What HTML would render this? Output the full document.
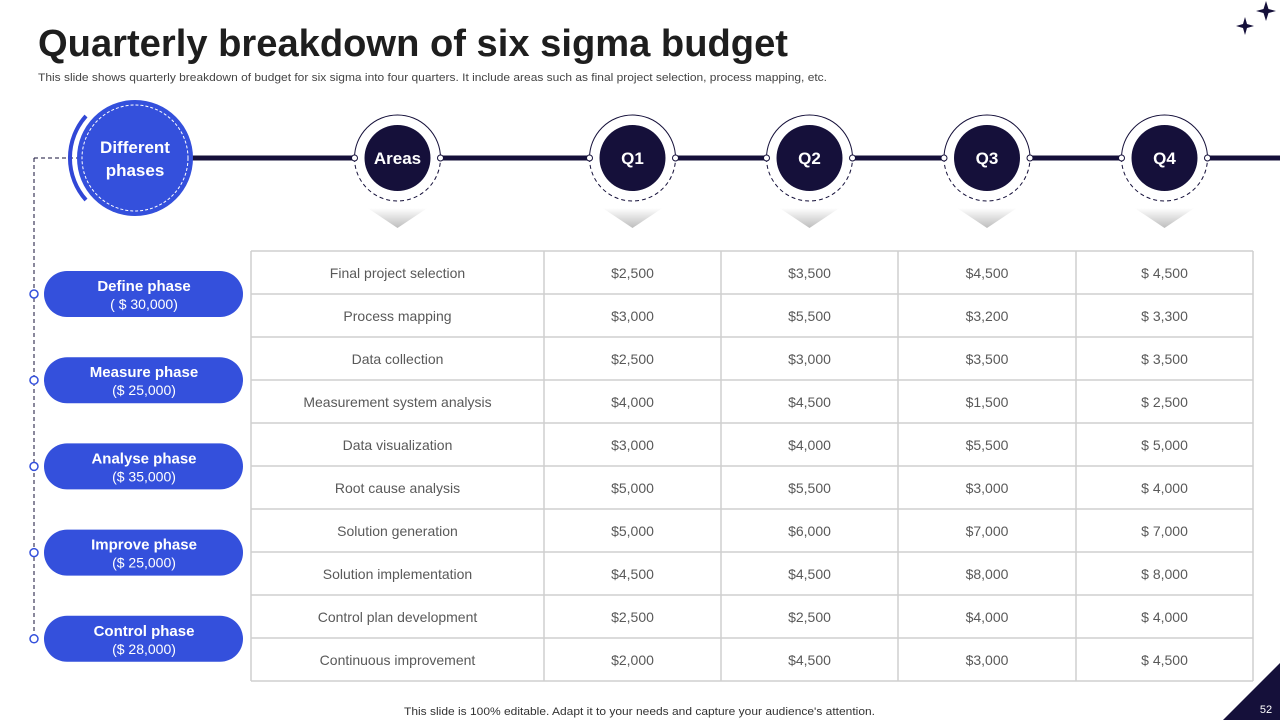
<!DOCTYPE html>
<html><head><meta charset="utf-8"><style>
body{margin:0;background:#fff;}
svg{display:block;font-family:"Liberation Sans",sans-serif;}
</style></head><body>
<svg id="s" width="1280" height="720" viewBox="0 0 1280 720">
<defs>
<linearGradient id="chev" x1="0" y1="0" x2="0" y2="1">
<stop offset="0" stop-color="#ffffff"/><stop offset="1" stop-color="#bdbdbd"/>
</linearGradient>
</defs>
<text x="38" y="56" font-size="38" font-weight="bold" fill="#1e1e1e" textLength="750" lengthAdjust="spacingAndGlyphs">Quarterly breakdown of six sigma budget</text>
<text x="38" y="81" font-size="11" fill="#444" textLength="789" lengthAdjust="spacingAndGlyphs">This slide shows quarterly breakdown of budget for six sigma into four quarters. It include areas such as final project selection, process mapping, etc.</text>
<g fill="#15103a">
<path d="M1266 1 L1268.5 9 L1276 11 L1268.5 13 L1266 21 L1263.5 13 L1256 11 L1263.5 9Z"/>
<path d="M1245 17 L1247 24 L1254 26 L1247 28 L1245 35 L1243 28 L1236 26 L1243 24Z"/>
</g>
<rect x="190" y="155.5" width="1090" height="5" fill="#15103a"/>
<path d="M34 158 H80 M34 158 V638" stroke="#15103a" stroke-dasharray="4 3" fill="none"/>
<g>
<path d="M86 116 A63 63 0 0 0 86 200" stroke="#3147d6" stroke-width="4" fill="none"/>
<circle cx="135" cy="158" r="58" fill="#3450dc"/>
<circle cx="135" cy="158" r="53" fill="none" stroke="#fff" stroke-dasharray="3 2" stroke-width="1"/>
<text x="135" y="153" font-size="17" font-weight="bold" fill="#fff" text-anchor="middle">Different</text>
<text x="135" y="176" font-size="17" font-weight="bold" fill="#fff" text-anchor="middle">phases</text>
</g>
<g id="hdr"></g>
<g id="phases"></g>
<g id="tbl"></g>
<text x="404" y="715" font-size="11" fill="#333" textLength="471" lengthAdjust="spacingAndGlyphs">This slide is 100% editable. Adapt it to your needs and capture your audience's attention.</text>
<path d="M1280 663 L1280 720 L1223 720Z" fill="#15103a"/>
<text x="1266" y="713" font-size="11" fill="#fff" text-anchor="middle">52</text>
</svg>
<script>
const headers=["Areas","Q1","Q2","Q3","Q4"];
const areas=["Final project selection","Process mapping","Data collection","Measurement system analysis","Data visualization","Root cause analysis","Solution generation","Solution implementation","Control plan development","Continuous improvement"];
const q1=["$2,500","$3,000","$2,500","$4,000","$3,000","$5,000","$5,000","$4,500","$2,500","$2,000"];
const q2=["$3,500","$5,500","$3,000","$4,500","$4,000","$5,500","$6,000","$4,500","$2,500","$4,500"];
const q3=["$4,500","$3,200","$3,500","$1,500","$5,500","$3,000","$7,000","$8,000","$4,000","$3,000"];
const q4=["$ 4,500","$ 3,300","$ 3,500","$ 2,500","$ 5,000","$ 4,000","$ 7,000","$ 8,000","$ 4,000","$ 4,500"];
const phaseNames=["Define phase","Measure phase","Analyse phase","Improve phase","Control phase"];
const phaseBudgets=["( $ 30,000)","($ 25,000)","($ 35,000)","($ 25,000)","($ 28,000)"];
const NS="http://www.w3.org/2000/svg";
function mk(tag,attrs,parent,txt){const e=document.createElementNS(NS,tag);for(const k in attrs)e.setAttribute(k,attrs[k]);if(txt!==undefined)e.textContent=txt;parent.appendChild(e);return e;}
const colX=[251,544,721,898,1076,1253];
const rowTop=251,rowH=43;
const hdr=document.getElementById('hdr');
headers.forEach((h,i)=>{
  const cx=(colX[i]+colX[i+1])/2,cy=158;
  const g=mk('g',{},hdr);
  
  
  mk('circle',{cx:cx,cy:cy,r:43,fill:'#fff'},g);
  mk('path',{d:`M${cx-43} ${cy} A43 43 0 0 1 ${cx+43} ${cy}`,stroke:'#15103a','stroke-width':1,fill:'none'},g);
  mk('path',{d:`M${cx-43} ${cy} A43 43 0 0 0 ${cx+43} ${cy}`,stroke:'#15103a','stroke-width':1,'stroke-dasharray':'4 3',fill:'none'},g);
  mk('circle',{cx:cx,cy:cy,r:33,fill:'#15103a'},g);
  mk('circle',{cx:cx-43,cy:cy,r:3,fill:'#fff',stroke:'#15103a'},g);
  mk('circle',{cx:cx+43,cy:cy,r:3,fill:'#fff',stroke:'#15103a'},g);
  mk('text',{x:cx,y:cy+6,'font-size':17,'font-weight':'bold',fill:'#fff','text-anchor':'middle'},g,h);
  mk('path',{d:`M${cx-30} 208 L${cx+30} 208 L${cx} 228Z`,fill:'url(#chev)'},g);
});
const ph=document.getElementById('phases');
phaseNames.forEach((n,i)=>{
  const cy=294+i*86.2;
  const g=mk('g',{},ph);
  
  
  mk('rect',{x:44,y:cy-23,width:199,height:46,rx:23,fill:'#3450dc'},g);
  mk('circle',{cx:34,cy:cy,r:4,fill:'#fff',stroke:'#3450dc','stroke-width':1.5},g);
  mk('text',{x:144,y:cy-3,'font-size':15,'font-weight':'bold',fill:'#fff','text-anchor':'middle'},g,n);
  mk('text',{x:144,y:cy+15,'font-size':14,fill:'#fff','text-anchor':'middle'},g,phaseBudgets[i]);
});
const tb=document.getElementById('tbl');
const tg=mk('g',{},tb);


for(let r=0;r<=areas.length;r++){mk('line',{x1:colX[0],x2:colX[5],y1:rowTop+r*rowH,y2:rowTop+r*rowH,stroke:'#cfcfcf','stroke-width':1.5},tg);}
colX.forEach(x=>mk('line',{x1:x,x2:x,y1:rowTop,y2:rowTop+areas.length*rowH,stroke:'#cfcfcf','stroke-width':1.5},tg));
const cols=[areas,q1,q2,q3,q4];
cols.forEach((arr,c)=>{
  arr.forEach((v,r)=>{
    const t=mk('text',{x:(colX[c]+colX[c+1])/2,y:rowTop+r*rowH+27,'font-size':14,fill:'#595959','text-anchor':'middle'},tg,v);
    
    
  });
});
</script>
</body></html>
